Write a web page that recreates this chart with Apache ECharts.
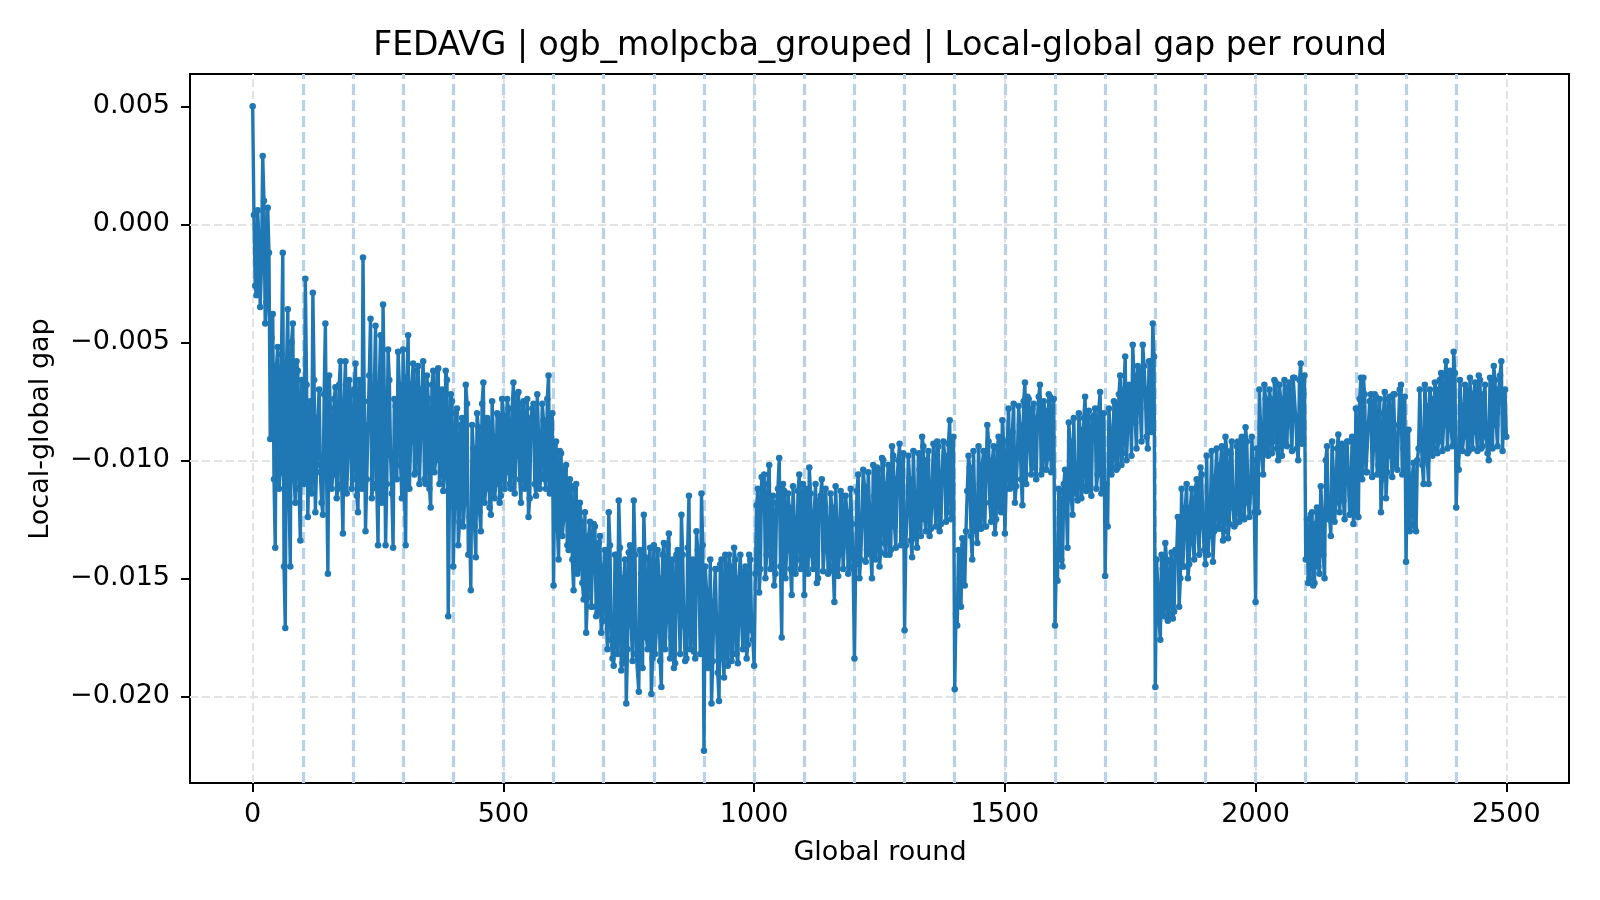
<!DOCTYPE html>
<html>
<head>
<meta charset="utf-8">
<script src="https://cdn.jsdelivr.net/npm/echarts@6/dist/echarts.min.js"></script>
<style>
  html, body { margin: 0; padding: 0; background: #fff; }
  #chart { width: 1600px; height: 900px; }
</style>
</head>
<body>
<div id="chart"></div>
<script>
// local-global gap at rounds 0, 5, 10, ... 2500
var gap = [
  0.0050, -0.0026, 0.0006, -0.0035, 0.0029, -0.0042, 0.0007, -0.0091, -0.0038, -0.0137, -0.0052, -0.0105, -0.0012, -0.0171, -0.0036, -0.0145, -0.0042, -0.0118, -0.0062, -0.0134,
  -0.0067, -0.0023, -0.0124, -0.0075, -0.0029, -0.0122, -0.0082, -0.0105, -0.0123, -0.0042, -0.0148, -0.0078, -0.0106, -0.0069, -0.0112, -0.0058, -0.0131, -0.0058, -0.0098, -0.0072,
  -0.0108, -0.0059, -0.0122, -0.0076, -0.0014, -0.0130, -0.0085, -0.0040, -0.0110, -0.0043, -0.0136, -0.0047, -0.0034, -0.0136, -0.0053, -0.0098, -0.0137, -0.0077, -0.0054, -0.0102,
  -0.0053, -0.0136, -0.0047, -0.0092, -0.0059, -0.0105, -0.0060, -0.0090, -0.0058, -0.0110, -0.0074, -0.0120, -0.0062, -0.0100, -0.0061, -0.0088, -0.0113, -0.0062, -0.0166, -0.0072,
  -0.0145, -0.0080, -0.0136, -0.0085, -0.0128, -0.0068, -0.0140, -0.0155, -0.0095, -0.0141, -0.0086, -0.0130, -0.0067, -0.0112, -0.0084, -0.0123, -0.0090, -0.0110, -0.0081, -0.0115,
  -0.0081, -0.0105, -0.0078, -0.0112, -0.0067, -0.0098, -0.0071, -0.0118, -0.0075, -0.0104, -0.0124, -0.0082, -0.0076, -0.0115, -0.0089, -0.0106, -0.0083, -0.0112, -0.0064, -0.0100,
  -0.0153, -0.0092, -0.0142, -0.0097, -0.0125, -0.0102, -0.0138, -0.0111, -0.0155, -0.0110, -0.0146, -0.0126, -0.0159, -0.0173, -0.0132, -0.0162, -0.0127, -0.0166, -0.0135, -0.0173,
  -0.0145, -0.0168, -0.0122, -0.0176, -0.0187, -0.0140, -0.0117, -0.0189, -0.0150, -0.0203, -0.0139, -0.0170, -0.0117, -0.0182, -0.0198, -0.0148, -0.0123, -0.0175, -0.0142, -0.0199,
  -0.0136, -0.0172, -0.0150, -0.0196, -0.0135, -0.0168, -0.0131, -0.0175, -0.0188, -0.0140, -0.0160, -0.0123, -0.0170, -0.0184, -0.0115, -0.0162, -0.0181, -0.0130, -0.0150, -0.0114,
  -0.0223, -0.0155, -0.0185, -0.0203, -0.0160, -0.0146, -0.0202, -0.0142, -0.0192, -0.0160, -0.0140, -0.0185, -0.0137, -0.0182, -0.0150, -0.0168, -0.0147, -0.0184, -0.0140, -0.0172,
  -0.0187, -0.0119, -0.0156, -0.0107, -0.0106, -0.0140, -0.0102, -0.0130, -0.0153, -0.0118, -0.0099, -0.0175, -0.0113, -0.0138, -0.0120, -0.0157, -0.0125, -0.0142, -0.0106, -0.0135,
  -0.0157, -0.0118, -0.0103, -0.0140, -0.0122, -0.0152, -0.0117, -0.0108, -0.0138, -0.0125, -0.0147, -0.0120, -0.0160, -0.0128, -0.0140, -0.0115, -0.0135, -0.0122, -0.0145, -0.0127,
  -0.0184, -0.0113, -0.0150, -0.0125, -0.0111, -0.0138, -0.0120, -0.0150, -0.0115, -0.0103, -0.0145, -0.0099, -0.0135, -0.0110, -0.0140, -0.0094, -0.0128, -0.0108, -0.0093, -0.0130,
  -0.0172, -0.0122, -0.0108, -0.0141, -0.0115, -0.0137, -0.0104, -0.0090, -0.0125, -0.0100, -0.0132, -0.0110, -0.0118, -0.0092, -0.0130, -0.0105, -0.0098, -0.0122, -0.0083, -0.0110,
  -0.0197, -0.0170, -0.0150, -0.0133, -0.0153, -0.0113, -0.0103, -0.0142, -0.0120, -0.0135, -0.0110, -0.0102, -0.0128, -0.0085, -0.0118, -0.0100, -0.0131, -0.0095, -0.0120, -0.0083,
  -0.0131, -0.0092, -0.0112, -0.0088, -0.0118, -0.0098, -0.0085, -0.0119, -0.0067, -0.0073, -0.0095, -0.0078, -0.0103, -0.0082, -0.0068, -0.0104, -0.0079, -0.0099, -0.0073, -0.0090,
  -0.0170, -0.0151, -0.0113, -0.0145, -0.0104, -0.0137, -0.0092, -0.0123, -0.0110, -0.0117, -0.0087, -0.0111, -0.0073, -0.0100, -0.0111, -0.0082, -0.0078, -0.0106, -0.0071, -0.0106,
  -0.0149, -0.0128, -0.0087, -0.0103, -0.0076, -0.0103, -0.0064, -0.0097, -0.0056, -0.0087, -0.0072, -0.0051, -0.0084, -0.0060, -0.0078, -0.0051, -0.0070, -0.0095, -0.0058, -0.0042,
  -0.0196, -0.0153, -0.0176, -0.0146, -0.0135, -0.0168, -0.0143, -0.0167, -0.0138, -0.0124, -0.0150, -0.0145, -0.0120, -0.0150, -0.0120, -0.0135, -0.0112, -0.0130, -0.0103, -0.0128,
  -0.0144, -0.0140, -0.0118, -0.0143, -0.0107, -0.0128, -0.0102, -0.0134, -0.0090, -0.0133, -0.0097, -0.0120, -0.0127, -0.0092, -0.0123, -0.0105, -0.0086, -0.0118, -0.0113, -0.0100,
  -0.0160, -0.0122, -0.0086, -0.0106, -0.0074, -0.0098, -0.0074, -0.0092, -0.0067, -0.0100, -0.0074, -0.0088, -0.0093, -0.0069, -0.0085, -0.0065, -0.0082, -0.0100, -0.0059, -0.0072,
  -0.0142, -0.0152, -0.0123, -0.0153, -0.0127, -0.0145, -0.0111, -0.0140, -0.0100, -0.0125, -0.0132, -0.0105, -0.0118, -0.0089, -0.0110, -0.0117, -0.0095, -0.0092, -0.0115, -0.0127,
  -0.0078, -0.0124, -0.0065, -0.0065, -0.0105, -0.0085, -0.0072, -0.0095, -0.0073, -0.0102, -0.0122, -0.0080, -0.0116, -0.0074, -0.0098, -0.0072, -0.0102, -0.0085, -0.0068, -0.0095,
  -0.0143, -0.0087, -0.0127, -0.0101, -0.0130, -0.0095, -0.0090, -0.0110, -0.0077, -0.0110, -0.0074, -0.0095, -0.0070, -0.0092, -0.0063, -0.0085, -0.0058, -0.0080, -0.0086, -0.0054,
  -0.0120, -0.0104, -0.0077, -0.0090, -0.0070, -0.0096, -0.0080, -0.0072, -0.0088, -0.0064, -0.0095, -0.0072, -0.0090, -0.0100, -0.0075, -0.0060, -0.0085, -0.0070, -0.0058, -0.0080,
  -0.0090
];

// in-between readings at rounds 2.5, 7.5, ... 2497.5 (the dense band)
var gapMid = [
  0.0004, -0.0030, -0.0008, -0.0018, 0.0010, -0.0033, -0.0012, -0.0048, -0.0108, -0.0060, -0.0112, -0.0055, -0.0145, -0.0060, -0.0115, -0.0050, -0.0108, -0.0058, -0.0112, -0.0066,
  -0.0110, -0.0068, -0.0095, -0.0114, -0.0066, -0.0102, -0.0070, -0.0118, -0.0072, -0.0108, -0.0064, -0.0112, -0.0074, -0.0116, -0.0068, -0.0110, -0.0075, -0.0114, -0.0066, -0.0112,
  -0.0070, -0.0115, -0.0066, -0.0112, -0.0075, -0.0108, -0.0064, -0.0116, -0.0070, -0.0112, -0.0068, -0.0118, -0.0072, -0.0110, -0.0066, -0.0114, -0.0074, -0.0108, -0.0068, -0.0116,
  -0.0110, -0.0065, -0.0112, -0.0068, -0.0106, -0.0062, -0.0110, -0.0070, -0.0108, -0.0064, -0.0112, -0.0068, -0.0105, -0.0062, -0.0110, -0.0070, -0.0106, -0.0066, -0.0112, -0.0075,
  -0.0120, -0.0078, -0.0126, -0.0082, -0.0118, -0.0076, -0.0124, -0.0085, -0.0128, -0.0080, -0.0122, -0.0076, -0.0118, -0.0082, -0.0120, -0.0075, -0.0116, -0.0080, -0.0118, -0.0074,
  -0.0112, -0.0074, -0.0110, -0.0078, -0.0114, -0.0072, -0.0108, -0.0076, -0.0112, -0.0074, -0.0116, -0.0078, -0.0110, -0.0072, -0.0112, -0.0076, -0.0108, -0.0074, -0.0114, -0.0080,
  -0.0098, -0.0128, -0.0096, -0.0132, -0.0104, -0.0136, -0.0108, -0.0142, -0.0112, -0.0148, -0.0118, -0.0152, -0.0122, -0.0158, -0.0126, -0.0162, -0.0128, -0.0165, -0.0132, -0.0168,
  -0.0138, -0.0180, -0.0136, -0.0184, -0.0140, -0.0182, -0.0137, -0.0186, -0.0142, -0.0180, -0.0136, -0.0185, -0.0140, -0.0182, -0.0138, -0.0188, -0.0141, -0.0180, -0.0137, -0.0184,
  -0.0182, -0.0138, -0.0185, -0.0140, -0.0180, -0.0136, -0.0184, -0.0142, -0.0186, -0.0138, -0.0182, -0.0140, -0.0185, -0.0137, -0.0180, -0.0142, -0.0184, -0.0138, -0.0182, -0.0136,
  -0.0145, -0.0188, -0.0142, -0.0185, -0.0146, -0.0190, -0.0144, -0.0184, -0.0140, -0.0187, -0.0145, -0.0182, -0.0142, -0.0186, -0.0140, -0.0180, -0.0145, -0.0178, -0.0142, -0.0176,
  -0.0148, -0.0112, -0.0146, -0.0114, -0.0150, -0.0110, -0.0146, -0.0115, -0.0148, -0.0112, -0.0145, -0.0110, -0.0150, -0.0114, -0.0146, -0.0111, -0.0148, -0.0113, -0.0146, -0.0110,
  -0.0112, -0.0148, -0.0114, -0.0146, -0.0110, -0.0150, -0.0115, -0.0147, -0.0112, -0.0148, -0.0114, -0.0145, -0.0111, -0.0149, -0.0113, -0.0146, -0.0115, -0.0148, -0.0112, -0.0146,
  -0.0144, -0.0106, -0.0142, -0.0104, -0.0143, -0.0105, -0.0140, -0.0102, -0.0142, -0.0104, -0.0139, -0.0100, -0.0140, -0.0102, -0.0138, -0.0098, -0.0137, -0.0100, -0.0136, -0.0097,
  -0.0136, -0.0098, -0.0134, -0.0096, -0.0133, -0.0097, -0.0132, -0.0094, -0.0130, -0.0096, -0.0129, -0.0093, -0.0128, -0.0094, -0.0127, -0.0092, -0.0126, -0.0093, -0.0125, -0.0090,
  -0.0165, -0.0138, -0.0162, -0.0136, -0.0130, -0.0098, -0.0132, -0.0096, -0.0130, -0.0094, -0.0129, -0.0096, -0.0128, -0.0092, -0.0126, -0.0094, -0.0125, -0.0090, -0.0122, -0.0092,
  -0.0112, -0.0078, -0.0110, -0.0076, -0.0111, -0.0077, -0.0108, -0.0075, -0.0110, -0.0074, -0.0106, -0.0076, -0.0108, -0.0073, -0.0106, -0.0075, -0.0104, -0.0072, -0.0105, -0.0074,
  -0.0145, -0.0112, -0.0142, -0.0110, -0.0118, -0.0084, -0.0116, -0.0082, -0.0114, -0.0080, -0.0116, -0.0082, -0.0113, -0.0079, -0.0115, -0.0081, -0.0112, -0.0078, -0.0114, -0.0080,
  -0.0110, -0.0078, -0.0106, -0.0075, -0.0104, -0.0072, -0.0102, -0.0070, -0.0100, -0.0068, -0.0098, -0.0064, -0.0095, -0.0062, -0.0092, -0.0060, -0.0090, -0.0058, -0.0088, -0.0056,
  -0.0142, -0.0168, -0.0140, -0.0166, -0.0142, -0.0165, -0.0139, -0.0164, -0.0140, -0.0162, -0.0112, -0.0145, -0.0110, -0.0144, -0.0112, -0.0142, -0.0108, -0.0140, -0.0106, -0.0138,
  -0.0098, -0.0132, -0.0096, -0.0130, -0.0095, -0.0129, -0.0094, -0.0130, -0.0096, -0.0127, -0.0092, -0.0128, -0.0094, -0.0126, -0.0090, -0.0125, -0.0092, -0.0124, -0.0090, -0.0122,
  -0.0095, -0.0070, -0.0098, -0.0068, -0.0096, -0.0070, -0.0097, -0.0066, -0.0095, -0.0068, -0.0098, -0.0066, -0.0094, -0.0067, -0.0096, -0.0065, -0.0095, -0.0066, -0.0093, -0.0064,
  -0.0125, -0.0150, -0.0122, -0.0152, -0.0120, -0.0148, -0.0122, -0.0150, -0.0094, -0.0124, -0.0092, -0.0126, -0.0095, -0.0122, -0.0093, -0.0125, -0.0092, -0.0123, -0.0090, -0.0122,
  -0.0106, -0.0074, -0.0108, -0.0072, -0.0105, -0.0075, -0.0107, -0.0072, -0.0106, -0.0074, -0.0108, -0.0071, -0.0105, -0.0073, -0.0107, -0.0072, -0.0104, -0.0070, -0.0106, -0.0073,
  -0.0105, -0.0130, -0.0107, -0.0128, -0.0100, -0.0070, -0.0102, -0.0068, -0.0100, -0.0070, -0.0098, -0.0067, -0.0097, -0.0066, -0.0096, -0.0064, -0.0095, -0.0062, -0.0094, -0.0063,
  -0.0098, -0.0066, -0.0096, -0.0068, -0.0097, -0.0065, -0.0095, -0.0067, -0.0096, -0.0066, -0.0094, -0.0068, -0.0097, -0.0065, -0.0095, -0.0066, -0.0094, -0.0064, -0.0096, -0.0070
];

// vertical markers (dashed blue) and tick values
var boundaries = [100, 200, 300, 400, 500, 600, 700, 800, 900, 1000, 1100, 1200, 1300, 1400, 1500, 1600, 1700, 1800, 1900, 2000, 2100, 2200, 2300, 2400];
var xTicks = [0, 500, 1000, 1500, 2000, 2500];
var yTicks = [0.005, 0, -0.005, -0.010, -0.015, -0.020];

var FONT = 'DejaVu Sans';
var BLUE = '#1f77b4';

// merge the two readings in round order
var points = [];
for (var i = 0; i < gap.length; i++) {
  points.push([i * 5, gap[i]]);
  if (i < gapMid.length) points.push([i * 5 + 2.5, gapMid[i]]);
}

var gridLines = [];
xTicks.forEach(function (v) { gridLines.push({ xAxis: v }); });
yTicks.forEach(function (v) { gridLines.push({ yAxis: v }); });

var chart = echarts.init(document.getElementById('chart'), null, { renderer: 'canvas' });

var option = {
  animation: false,
  backgroundColor: '#fff',
  grid: {
    left: 190, right: 31, top: 74, bottom: 117,
    show: true, borderColor: '#000', borderWidth: 2, backgroundColor: 'transparent'
  },
  xAxis: {
    type: 'value',
    min: -125, max: 2625,
    axisLine: { show: true, onZero: false, lineStyle: { color: '#000', width: 2 } },
    axisTick: { show: true, customValues: xTicks, length: 9, lineStyle: { color: '#000', width: 2 } },
    axisLabel: {
      customValues: xTicks, margin: 18,
      color: '#000', fontFamily: FONT, fontSize: 27,
      formatter: function (v) { return String(v); }
    },
    splitLine: { show: false }
  },
  yAxis: {
    type: 'value',
    min: -0.02367, max: 0.00637,
    axisLine: { show: true, onZero: false, lineStyle: { color: '#000', width: 2 } },
    axisTick: { show: true, customValues: yTicks, length: 9, lineStyle: { color: '#000', width: 2 } },
    axisLabel: {
      customValues: yTicks, margin: 20,
      color: '#000', fontFamily: FONT, fontSize: 27,
      formatter: function (v) { return v.toFixed(3).replace('-', '\u2212'); }
    },
    splitLine: { show: false }
  },
  graphic: [
    {
      type: 'text', x: 880, y: 46, z: 10,
      style: {
        text: 'FEDAVG | ogb_molpcba_grouped | Local-global gap per round',
        font: '33px "DejaVu Sans"', fill: '#000',
        textAlign: 'center', textVerticalAlign: 'middle'
      }
    },
    {
      type: 'text', x: 880, y: 853, z: 10,
      style: {
        text: 'Global round', font: '27px "DejaVu Sans"', fill: '#000',
        textAlign: 'center', textVerticalAlign: 'middle'
      }
    },
    {
      type: 'text', x: 41, y: 429, rotation: Math.PI / 2, z: 10,
      style: {
        text: 'Local-global gap', font: '27px "DejaVu Sans"', fill: '#000',
        textAlign: 'center', textVerticalAlign: 'middle'
      }
    }
  ],
  series: [
    {
      // grey grid at the ticks
      type: 'line', data: [], z: 1, silent: true,
      markLine: {
        silent: true, symbol: ['none', 'none'], label: { show: false },
        lineStyle: { color: '#e3e3e3', width: 2, type: [8, 4] },
        emphasis: { disabled: true },
        data: gridLines
      }
    },
    {
      // light blue markers every 100 rounds
      type: 'line', data: [], z: 2, silent: true,
      markLine: {
        silent: true, symbol: ['none', 'none'], label: { show: false },
        lineStyle: { color: '#b8d2e8', width: 3.2, type: [11, 5] },
        emphasis: { disabled: true },
        data: boundaries.map(function (v) { return { xAxis: v }; })
      }
    },
    {
      name: 'gap',
      type: 'line', z: 5,
      data: points,
      showSymbol: true, showAllSymbol: true,
      symbol: 'circle', symbolSize: 6.5,
      itemStyle: { color: BLUE },
      lineStyle: { color: BLUE, width: 3.4 },
      sampling: null
    }
  ]
};

chart.setOption(option);
</script>
</body>
</html>
